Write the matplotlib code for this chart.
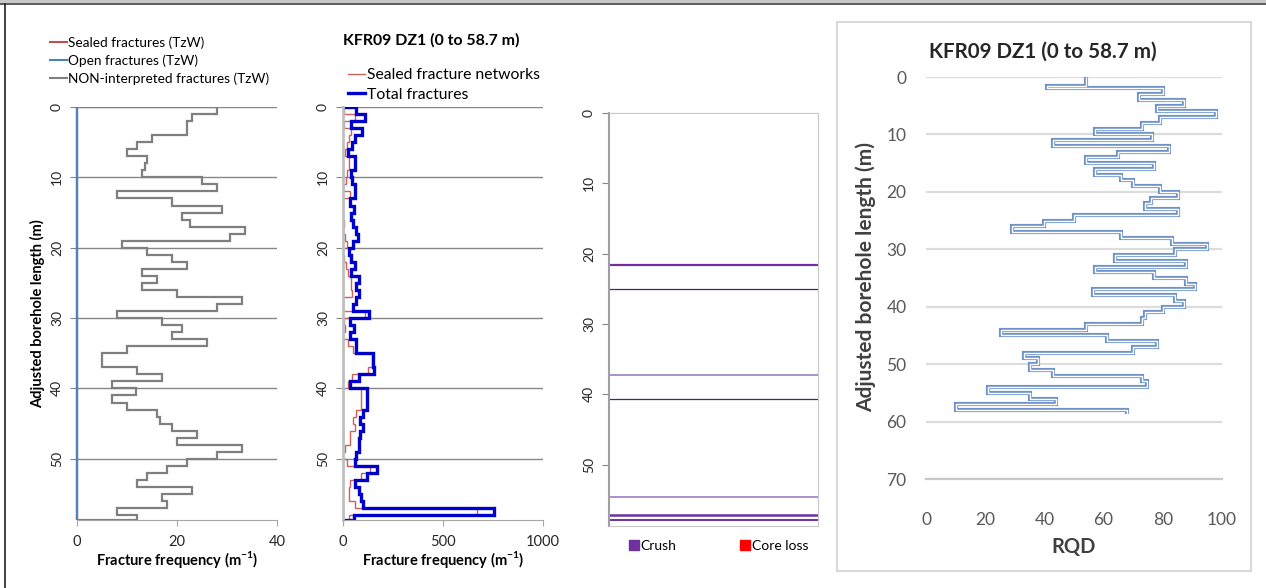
import matplotlib.pyplot as plt
from matplotlib.lines import Line2D
from matplotlib.patches import Rectangle

plt.rcParams['font.family'] = ['Lato', 'DejaVu Sans']
plt.rcParams['mathtext.fontset'] = 'custom'
plt.rcParams['mathtext.rm'] = 'Lato'
plt.rcParams['mathtext.bf'] = 'Lato:bold'

W, H = 1266, 588

# 1 m logging intervals, the last one stops at 58.7 m
depth_edges = [0, 1, 2, 3, 4, 5, 6, 7, 8, 9, 10, 11, 12, 13, 14, 15, 16, 17, 18, 19,
               20, 21, 22, 23, 24, 25, 26, 27, 28, 29, 30, 31, 32, 33, 34, 35, 36, 37, 38, 39,
               40, 41, 42, 43, 44, 45, 46, 47, 48, 49, 50, 51, 52, 53, 54, 55, 56, 57, 58, 58.7]

# panel 1: fracture frequency (TzW), m-1
non_interp_tzw = [28, 23, 22, 22, 15, 12, 10, 14, 13.5, 13,
                  25, 28, 8, 19, 29, 21, 22.5, 33.5, 30.5, 9,
                  14, 19, 22, 13, 16, 13, 20, 33, 28, 8,
                  17, 21, 19, 26, 10, 5, 5, 12, 17, 7,
                  11.7, 7, 10, 16, 16.5, 19, 24, 20, 33, 28,
                  22, 18, 14, 12, 23, 17, 18, 8, 12]
sealed_tzw = [0, 0, 0, 0, 0, 0, 0, 0, 0, 0, 0, 0, 0, 0, 0, 0, 0, 0, 0, 0,
              0, 0, 0, 0, 0, 0, 0, 0, 0, 0, 0, 0, 0, 0, 0, 0, 0, 0, 0, 0,
              0, 0, 0, 0, 0, 0, 0, 0, 0, 0, 0, 0, 0, 0, 0, 0, 0, 0, 0]
open_tzw = [0, 0, 0, 0, 0, 0, 0, 0, 0, 0, 0, 0, 0, 0, 0, 0, 0, 0, 0, 0,
            0, 0, 0, 0, 0, 0, 0, 0, 0, 0, 0, 0, 0, 0, 0, 0, 0, 0, 0, 0,
            0, 0, 0, 0, 0, 0, 0, 0, 0, 0, 0, 0, 0, 0, 0, 0, 0, 0, 0]

# panel 2: fracture frequency incl. sealed networks, m-1
total_fractures = [63, 110, 38, 97, 60, 47, 27, 60, 60, 38,
                   47, 60, 60, 33, 53, 42, 50, 63, 75, 50,
                   30, 42, 60, 42, 78, 67, 78, 63, 50, 130,
                   33, 53, 33, 63, 67, 150, 150, 155, 78, 35,
                   122, 118, 122, 98, 85, 102, 85, 78, 78, 67,
                   62, 172, 118, 60, 78, 92, 102, 755, 57]
sealed_networks = [5, 60, 3, 38, 32, 18, 10, 32, 30, 22,
                   13, 2, 35, 0, 0, 0, 3, 0, 10, 22,
                   0, 7, 15, 23, 38, 40, 43, 0, 0, 110,
                   3, 10, 0, 27, 50, 143, 143, 123, 47, 23,
                   90, 90, 92, 67, 50, 58, 33, 33, 10, 0,
                   22, 135, 90, 33, 30, 32, 58, 668, 32]

# panel 3: crush zones (m)
crush_depths = [21.6, 25.0, 37.3, 40.7, 54.6, 57.2, 57.8]

# panel 4: RQD
rqd_edges = [0, 1.5, 2, 3, 4, 5, 6, 7, 8, 9, 10, 11, 12, 13, 14, 15, 16, 17, 18, 19,
             20, 21, 22, 23, 24, 25, 26, 27, 28, 29, 30, 31, 32, 33, 34, 35, 36, 37, 38, 39,
             40, 41, 42, 43, 44, 45, 46, 47, 48, 49, 50, 51, 52, 53, 54, 55, 56, 57, 58, 58.7]
rqd = [54, 41, 80, 72, 87, 78, 98, 79, 73, 57,
       76.5, 43, 82, 65, 54, 77, 57, 66, 70, 79,
       85, 76, 74, 85, 50, 40, 29, 66, 83, 95,
       84, 64, 88, 57, 77, 88, 91, 56.5, 84, 87,
       80, 74, 73, 54, 25.5, 61, 78, 70, 33, 38,
       35, 43, 73, 74.5, 21, 35, 44, 10, 68]

depth_ticks = [0, 10, 20, 30, 40, 50]
title = "KFR09 DZ1 (0 to 58.7 m)"
xlab = r"Fracture frequency (m$^{\mathbf{-1}}$)"


def px_axes(fig, left, top, right, bottom):
    return fig.add_axes([left / W, 1 - bottom / H, (right - left) / W, (bottom - top) / H])


def fx(x):
    return x / W


def fy(y):
    return 1 - y / H


def depth_axis(ax):
    ax.set_ylim(58.7, 0)
    ax.set_yticks(depth_ticks)
    ax.tick_params(axis='y', direction='out', length=5, color='#868686', labelsize=10,
                   labelrotation=90, pad=5, labelcolor='#262626')
    for lab in ax.get_yticklabels():
        lab.set_va('center')
    ax.spines['top'].set_visible(False)
    ax.spines['right'].set_visible(False)


fig = plt.figure(figsize=(W / 100, H / 100), dpi=100)

# outer frame of the figure
fig.add_artist(Rectangle((0, fy(3)), 1, 3 / H, transform=fig.transFigure,
                         facecolor='#C8C8C8', edgecolor='none'))
fig.add_artist(Line2D([0, 1], [fy(3.5), fy(3.5)], transform=fig.transFigure,
                      color='#404040', lw=1.2))
fig.add_artist(Line2D([fx(5), fx(5)], [0, fy(3.5)], transform=fig.transFigure,
                      color='#202020', lw=1.2))

# ---- panel 1: TzW fractures
ax1 = px_axes(fig, 77, 107, 277, 520)
ax1.stairs(non_interp_tzw, depth_edges, orientation='horizontal', baseline=0,
           color='#7F7F7F', lw=1.6)
ax1.stairs(sealed_tzw, depth_edges, orientation='horizontal', baseline=0,
           color='#C0504D', lw=1.6, clip_on=False)
ax1.stairs(open_tzw, depth_edges, orientation='horizontal', baseline=0,
           color='#4F81BD', lw=1.6, clip_on=False)
ax1.set_xlim(0, 40)
ax1.set_xticks([0, 20, 40])
depth_axis(ax1)
ax1.yaxis.grid(True, color='#868686', lw=1)
ax1.set_axisbelow(True)
ax1.spines['left'].set_visible(False)
ax1.spines['bottom'].set_color('#A6A6A6')
ax1.tick_params(axis='x', direction='out', length=4, color='#A6A6A6', labelsize=10.5,
                pad=7, labelcolor='#262626')
ax1.set_xlabel(xlab, fontsize=10.5, fontweight='bold', labelpad=0)
ax1.set_ylabel("Adjusted borehole length (m)", fontsize=10.5, fontweight='bold', labelpad=4)
leg_lines = [Line2D([], [], color='#C0504D', lw=1.5),
             Line2D([], [], color='#4F81BD', lw=1.5),
             Line2D([], [], color='#7F7F7F', lw=1.5)]
ax1.legend(leg_lines, ['Sealed fractures (TzW)', 'Open fractures (TzW)',
                       'NON-interpreted fractures (TzW)'],
           loc='upper left', bbox_to_anchor=(fx(50), fy(36)), bbox_transform=fig.transFigure,
           frameon=False, fontsize=9.8, handlelength=1.25, handletextpad=0.1,
           labelspacing=0.42, borderpad=0, borderaxespad=0)

# ---- panel 2: total fractures
ax2 = px_axes(fig, 343, 107, 543, 520)
ax2.stairs(sealed_networks, depth_edges, orientation='horizontal', baseline=0,
           color='#D0605A', lw=1.0)
ax2.stairs(total_fractures, depth_edges, orientation='horizontal', baseline=0,
           color='#0000CC', lw=2.4)
ax2.set_xlim(0, 1000)
ax2.set_xticks([0, 500, 1000])
depth_axis(ax2)
ax2.yaxis.grid(True, color='#868686', lw=1)
ax2.set_axisbelow(True)
ax2.spines['left'].set_color('#BFBFBF')
ax2.spines['left'].set_linewidth(2)
ax2.spines['bottom'].set_color('#A6A6A6')
ax2.tick_params(axis='x', direction='out', length=4, color='#A6A6A6', labelsize=10.5,
                pad=7, labelcolor='#262626')
ax2.set_xlabel(xlab, fontsize=10.5, fontweight='bold', labelpad=0)
fig.text(fx(431), fy(40), title, ha='center', va='center', fontsize=11.4, fontweight='bold')
ax2.legend([Line2D([], [], color='#D0605A', lw=1.0), Line2D([], [], color='#0000CC', lw=2.4)],
           ['Sealed fracture networks', 'Total fractures'],
           loc='upper left', bbox_to_anchor=(fx(348), fy(68)), bbox_transform=fig.transFigure,
           frameon=False, fontsize=11.3, handlelength=1.1, handletextpad=0.1,
           labelspacing=0.38, borderpad=0, borderaxespad=0)

# ---- panel 3: crush / core loss
ax3 = px_axes(fig, 609, 113, 818, 526)
crush_colors = ['#7030A0', '#4B2070', '#A488CC', '#4B2070', '#A488CC', '#7030A0', '#7030A0']
crush_widths = [1.6, 0.9, 1.3, 0.9, 1.3, 1.8, 1.4]
ax3.hlines(crush_depths, 0, 1, colors=crush_colors, linewidths=crush_widths)
ax3.set_xlim(0, 1)
ax3.set_xticks([])
depth_axis(ax3)
for s in ['top', 'right', 'bottom']:
    ax3.spines[s].set_visible(True)
    ax3.spines[s].set_color('#C8C8C8')
ax3.spines['left'].set_color('#A0A0A0')
ax3.spines['left'].set_linewidth(1.5)
ax3.legend([Line2D([], [], ls='none', marker='s', ms=7, color='#7030A0'),
            Line2D([], [], ls='none', marker='s', ms=7, color='#FF0000')],
           ['Crush', 'Core loss'], ncol=2, loc='center',
           bbox_to_anchor=(fx(719), fy(546)), bbox_transform=fig.transFigure,
           frameon=False, fontsize=10, handlelength=0.7, handletextpad=0.15,
           columnspacing=4.6, borderpad=0, borderaxespad=0)

# ---- panel 4: RQD
fig.add_artist(Rectangle((fx(837), fy(571)), (1251 - 837) / W, (571 - 22) / H,
                         transform=fig.transFigure, facecolor='none',
                         edgecolor='#D9D9D9', lw=1.5))
ax4 = px_axes(fig, 926, 77, 1222, 479)
ax4.stairs(rqd, rqd_edges, orientation='horizontal', baseline=None,
           color='#6F93C8', lw=3.0)
ax4.stairs(rqd, rqd_edges, orientation='horizontal', baseline=None,
           color='white', lw=1.0)
ax4.set_xlim(0, 100)
ax4.set_ylim(70, 0)
ax4.set_xticks([0, 20, 40, 60, 80, 100])
ax4.set_yticks([0, 10, 20, 30, 40, 50, 60, 70])
ax4.yaxis.grid(True, color='#DCDCDC', lw=1.6)
ax4.set_axisbelow(True)
for s in ['top', 'right', 'left']:
    ax4.spines[s].set_visible(False)
ax4.spines['bottom'].set_color('#C8C8C8')
ax4.spines['bottom'].set_linewidth(1.6)
ax4.tick_params(length=0, labelsize=12.5, labelcolor='#595959')
ax4.tick_params(axis='x', pad=24)
ax4.tick_params(axis='y', pad=14)
fig.text(fx(1074), fy(547), "RQD", ha='center', va='center', fontsize=14.5,
         fontweight='bold', color='#404040')
fig.text(fx(866), fy(277), "Adjusted borehole length (m)", ha='center', va='center',
         rotation=90, fontsize=15, fontweight='bold', color='#404040')
fig.text(fx(1043), fy(52), title, ha='center', va='center', fontsize=14.8,
         fontweight='bold', color='#262626')

fig.savefig('out.png', dpi=100)
